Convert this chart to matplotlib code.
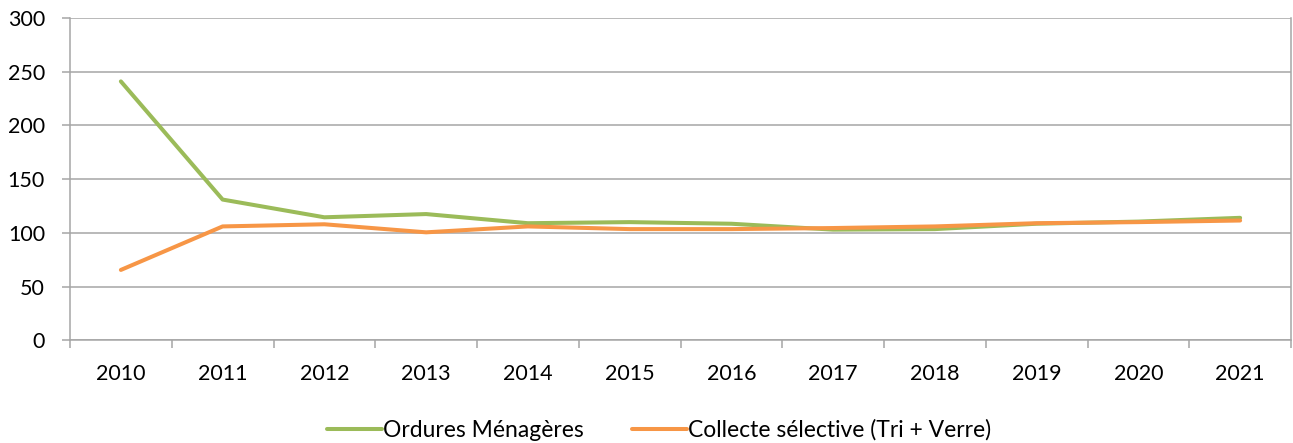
import matplotlib.pyplot as plt
import numpy as np

years = [2010, 2011, 2012, 2013, 2014, 2015, 2016, 2017, 2018, 2019, 2020, 2021]
ordures = [241, 131, 114.5, 117.5, 109, 110, 108.5, 103, 103.5, 108.5, 110.5, 114]
collecte = [65.5, 106, 108, 100.5, 106, 103.5, 103.5, 104.5, 106, 109, 110, 111.5]

plt.rcParams['font.family'] = ['Lato', 'DejaVu Sans']
grid_col = '#A6A6A6'

fig = plt.figure(figsize=(12.93, 4.43), dpi=100)
ax = fig.add_axes([70 / 1293, 1 - 340.3 / 443, (1291 - 70) / 1293, (340.3 - 18) / 443])

ax.plot(years, ordures, color='#9BBB59', lw=2.9, label='Ordures Ménagères', solid_capstyle='round')
ax.plot(years, collecte, color='#F79646', lw=2.9, label='Collecte sélective (Tri + Verre)', solid_capstyle='round')

ax.set_xlim(2009.5, 2021.5)
ax.set_ylim(0, 300)
ax.set_yticks(np.arange(0, 301, 50))
ax.set_xticks(years)
ax.set_xticks(np.arange(2009.5, 2021.6, 1), minor=True)
ax.grid(axis='y', color=grid_col, lw=1.1)
ax.set_axisbelow(True)

for side in ['left', 'bottom', 'right']:
    ax.spines[side].set_color(grid_col)
    ax.spines[side].set_linewidth(1.1)
ax.spines['top'].set_visible(False)

ax.tick_params(axis='x', which='major', length=0, pad=17, labelsize=15.5)
ax.tick_params(axis='x', which='minor', length=6, color=grid_col, width=1.1)
ax.tick_params(axis='y', length=6, color=grid_col, width=1.1, pad=12, labelsize=15.5)

fig.legend(loc='center', bbox_to_anchor=(0.51, 0.029), ncol=2, frameon=False,
           fontsize=16.5, handlelength=2.4, handletextpad=0.05, columnspacing=2.1)

fig.savefig('out.png', dpi=100)
